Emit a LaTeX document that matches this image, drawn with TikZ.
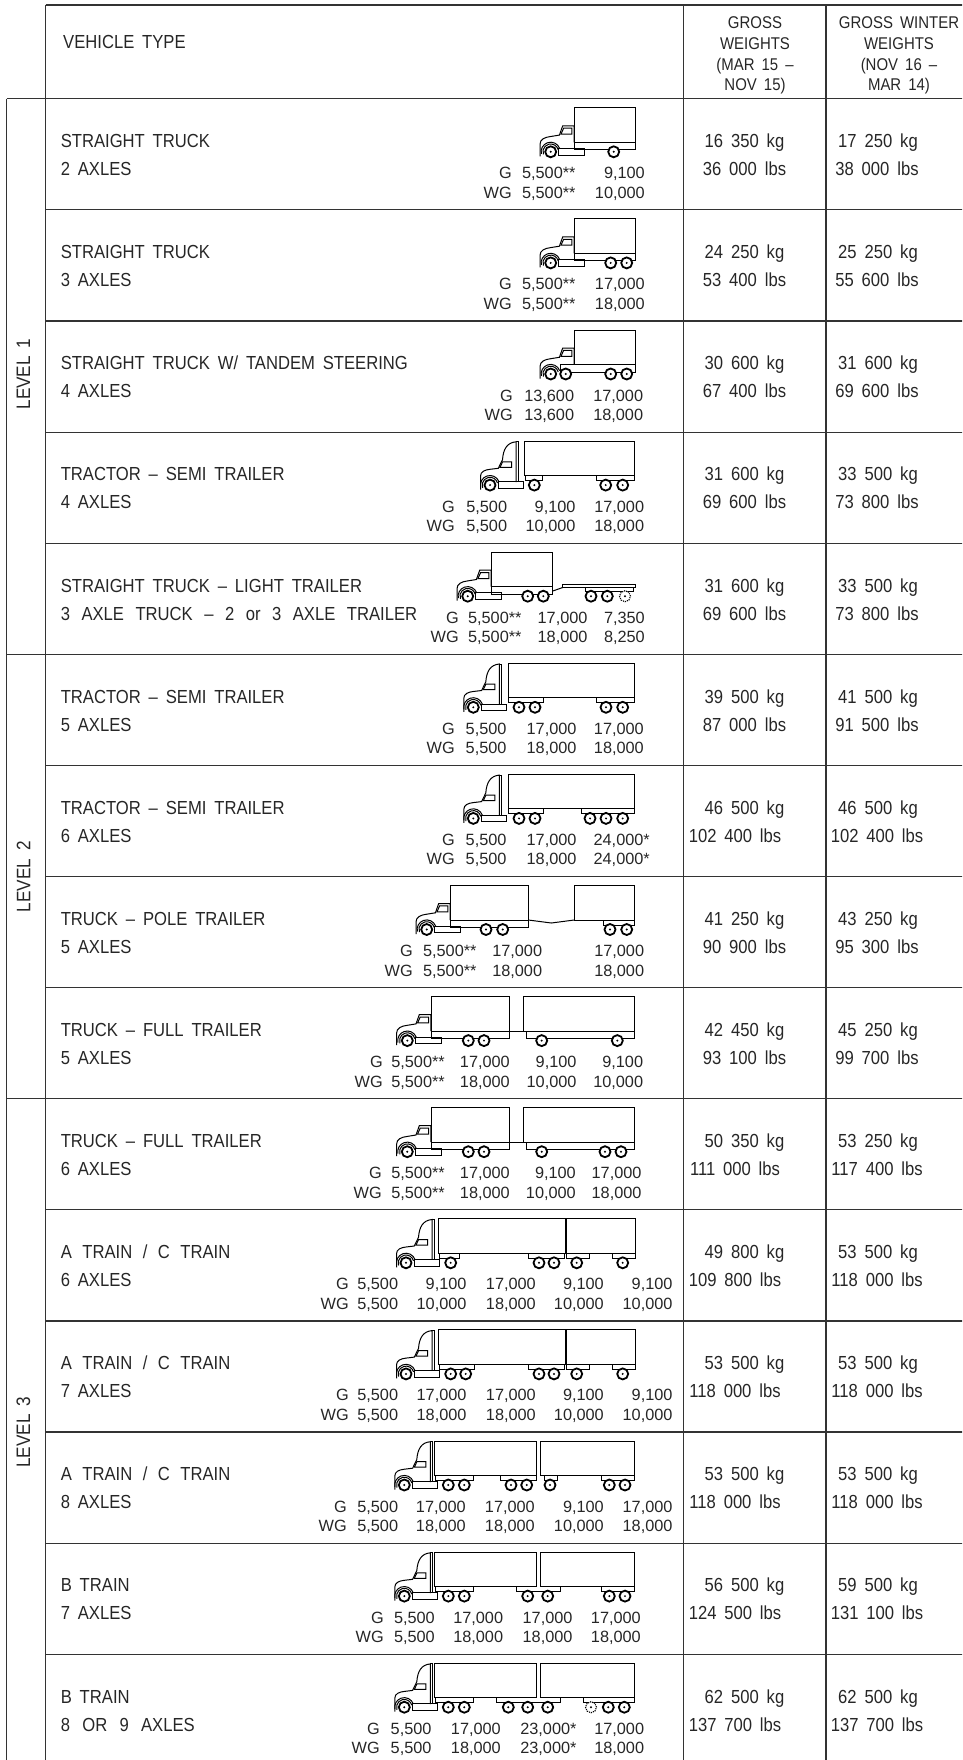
\documentclass[tikz,border=0pt]{standalone}
\usepackage{fontspec}
\setmainfont{Liberation Sans}[FakeStretch=0.88, WordSpace=1.7]
\newfontfamily\axfont{Liberation Sans}[FakeStretch=1.0, WordSpace=1.4]
\usetikzlibrary{calc}
\newcommand\Whl[1]{\draw[whl] (#1,53) circle[radius=5.5pt]; \fill (#1,53) circle[radius=1.1pt];}
\newcommand\DWhl[1]{\draw[line width=1.1pt, densely dotted, fill=white] (#1,53) circle[radius=5.5pt]; \fill (#1,53) circle[radius=1.1pt];}
\newcommand\Fend{%
 \draw[tk] (-15:7.8) arc[start angle=-15, end angle=-200, radius=7.8];
 \draw[tk] (-20:9.6) arc[start angle=-20, end angle=-192, radius=9.6];}
\newcommand\Conv[2]{%
\begin{scope}[shift={(#1,53)}]
 \draw[tk] (-10.7,4.5) -- (-10.7,-7.5) .. controls (-10.7,-12.5) and (-6,-14.6) .. (0,-15.3) -- (8.7,-16.7) -- (12,-26) -- (23.5,-26) -- (23.5,-9.5);
 \draw[tk] (10.3,-17.7) -- (12.9,-23.6) -- (21.2,-23.6) -- (21.2,-17.7) -- cycle;
 \Fend
 \ifnum#2=1 \draw[tk] (7.7,-3.3) rectangle (34,3.3);\fi
\end{scope}}
\newcommand\Tract[1]{%
\begin{scope}[shift={(#1,53)}]
 \draw[tk] (-9.5,4.5) -- (-9.5,-9) .. controls (-9.5,-13.5) and (-5,-15.3) .. (0,-15.8) -- (8.3,-16.8) -- (12.5,-25.5) .. controls (13.3,-36) and (17,-42.5) .. (26,-43.3) -- (26,-3);
 \draw[tk] (26,-43.3) -- (28.5,-43.3) -- (28.5,-3);
 \draw[tk] (10,-17.8) -- (12.6,-23.3) -- (21.5,-23.3) -- (21.5,-17.8) -- cycle;
 \Fend
 \draw[tk] (8.3,-3.3) rectangle (33,3.3);
\end{scope}}
\newcommand\Bx[2]{\draw[tk] (#1,9) rectangle (#2,43.5);}
\newcommand\Bog[2]{\draw[tk] (#1,43.5) -- (#1,48.5) -- (#2,48.5) -- (#2,43.5);}
\newcommand\Strip[2]{\draw[tk] (#1,43.5) rectangle (#2,51);}
\newcommand\AX[4]{\node[ax] (#1a) at (#2,80) {#3}; \node[ax] (#1b) at (#2,99.5) {#4};}
\newcommand\NW[8]{%
 \node[nm] (#1n1) at (60.6,48.8) {#2};
 \node[nm] (#1n2) at (60.6,76.8) {#3};
 \node[wt] (#1g1) at (744.5,48.8) {#4};
 \node[wt] (#1g2) at (#8,76.8) {#5};
 \node[wt] (#1w1) at (878,48.8) {#6};
 \node[wt] (#1w2) at (877,76.8) {#7};}
\begin{document}
\begin{tikzpicture}[x=1pt,y=-1pt,
  grid/.style={line width=1.2pt, draw=black!80},
  tk/.style={line width=1pt, draw=black},
  whl/.style={line width=1.8pt, draw=black, fill=white},
  nm/.style={font=\fontsize{18.9}{20}\selectfont, anchor=base west, inner sep=0pt, text=black!85},
  wt/.style={font=\fontsize{18.9}{20}\selectfont, anchor=base, inner sep=0pt, text=black!85},
  ax/.style={font=\axfont\fontsize{16.3}{17}\selectfont, anchor=base east, inner sep=0pt, text=black!85},
  hd/.style={font=\fontsize{17}{18}\selectfont, anchor=base, inner sep=0pt, text=black!85},
  lv/.style={font=\fontsize{19.5}{20}\selectfont, rotate=90, inner sep=0pt, text=black!85},
]
\useasboundingbox (0,0) rectangle (962,1760);
\begin{scope}
\clip (0,0) rectangle (962,1760);
% table grid
\draw[grid] (45.5,5) -- (1000,5);
\draw[grid] (6.5,98.8) -- (1000,98.8);
\draw[grid] (6.5,654.3) -- (1000,654.3);
\draw[grid] (6.5,1098.7) -- (1000,1098.7);
\foreach \k in {1,2,3,4,6,7,8,10,11,12,13,14,15}{
  \draw[grid] (45.5,98.8+111.1*\k) -- (1000,98.8+111.1*\k);}
\draw[grid] (6.5,98.8) -- (6.5,1780);
\draw[grid] (45.5,5) -- (45.5,1780);
\draw[grid] (683.6,5) -- (683.6,1780);
\draw[grid] (826,5) -- (826,1780);
\draw[grid] (972,5) -- (972,1780);
% header
\node[nm] (hv) at (63,48.5) {VEHICLE TYPE};
\node[hd] (hg1) at (755,29) {GROSS};
\node[hd] (hg2) at (755,50) {WEIGHTS};
\node[hd] (hg3) at (755,70.5) {(MAR 15 --};
\node[hd] (hg4) at (755,91) {NOV 15)};
\node[hd] (hw1) at (899,29) {GROSS WINTER};
\node[hd] (hw2) at (899,50) {WEIGHTS};
\node[hd] (hw3) at (899,70.5) {(NOV 16 --};
\node[hd] (hw4) at (899,91) {MAR 14)};
% level labels
\node[lv] (lv1) at (23.5,374) {LEVEL 1};
\node[lv] (lv2) at (23.5,876.5) {LEVEL 2};
\node[lv] (lv3) at (23.5,1432) {LEVEL 3};

% Row 1
\begin{scope}[shift={(0,98.8)}]
\NW{a}{STRAIGHT TRUCK}{2 AXLES}{16 350 kg}{36 000 lbs}{17 250 kg}{38 000 lbs}{744.5}
\Conv{550.7}{1}\Bx{574.5}{635}\Strip{574.5}{635}
\Whl{550.7}\Whl{613.7}
\AX{a1}{512}{G}{WG}\AX{a2}{575.7}{5,500**}{5,500**}\AX{a3}{645}{9,100}{10,000}
\end{scope}
% Row 2
\begin{scope}[shift={(0,209.9)}]
\NW{b}{STRAIGHT TRUCK}{3 AXLES}{24 250 kg}{53 400 lbs}{25 250 kg}{55 600 lbs}{744.5}
\Conv{550.7}{1}\Bx{574.5}{635}\Strip{574.5}{635}
\Whl{550.7}\Whl{610.7}\Whl{626.7}
\AX{b1}{512}{G}{WG}\AX{b2}{575.7}{5,500**}{5,500**}\AX{b3}{645}{17,000}{18,000}
\end{scope}
% Row 3
\begin{scope}[shift={(0,321.0)}]
\NW{c}{STRAIGHT TRUCK W/ TANDEM STEERING}{4 AXLES}{30 600 kg}{67 400 lbs}{31 600 kg}{69 600 lbs}{744.5}
\Conv{550.7}{0}\Bx{574.3}{635}\Strip{560}{635}
\Whl{550.7}\Whl{565.7}\Whl{610.7}\Whl{626.7}
\AX{c1}{513}{G}{WG}\AX{c2}{574.3}{13,600}{13,600}\AX{c3}{643.3}{17,000}{18,000}
\end{scope}
% Row 4
\begin{scope}[shift={(0,432.1)}]
\NW{d}{TRACTOR -- SEMI TRAILER}{4 AXLES}{31 600 kg}{69 600 lbs}{33 500 kg}{73 800 lbs}{744.5}
\Tract{490}\Bx{524.3}{634.3}\Bog{525}{542}\Bog{596.7}{634.3}
\Whl{490}\Whl{534.3}\Whl{605.7}\Whl{622.7}
\AX{d1}{455}{G}{WG}\AX{d2}{507.3}{5,500}{5,500}\AX{d3}{575.7}{9,100}{10,000}\AX{d4}{644.3}{17,000}{18,000}
\end{scope}
% Row 5
\begin{scope}[shift={(0,543.2)}]
\NW{e}{STRAIGHT TRUCK -- LIGHT TRAILER}{\spaceskip=11.5pt plus 1pt 3 AXLE TRUCK -- 2 or 3 AXLE TRAILER}{31 600 kg}{69 600 lbs}{33 500 kg}{73 800 lbs}{744.5}
\Conv{467.7}{1}\Bx{491.7}{552.3}\Strip{491.7}{552.3}
\draw[tk] (552.3,48) -- (562.7,44.3);
\draw[tk] (562.7,41.3) rectangle (635,44.3);
\draw[tk] (585,44.3) -- (585,48.5) -- (633,48.5) -- (633,44.3);
\Whl{467.7}\Whl{527.7}\Whl{543.3}\Whl{591}\Whl{607.3}\DWhl{625}
\AX{e1}{459}{G}{WG}\AX{e2}{521.7}{5,500**}{5,500**}\AX{e3}{587.7}{17,000}{18,000}\AX{e4}{645}{7,350}{8,250}
\end{scope}
% Row 6
\begin{scope}[shift={(0,654.3)}]
\NW{f}{TRACTOR -- SEMI TRAILER}{5 AXLES}{39 500 kg}{87 000 lbs}{41 500 kg}{91 500 lbs}{744.5}
\Tract{473.3}\Bx{508.3}{634.3}\Bog{508.3}{543}\Bog{596.7}{634.3}
\Whl{473.3}\Whl{519}\Whl{535}\Whl{606}\Whl{622.7}
\AX{f1}{455}{G}{WG}\AX{f2}{506.7}{5,500}{5,500}\AX{f3}{576.7}{17,000}{18,000}\AX{f4}{644}{17,000}{18,000}
\end{scope}
% Row 7
\begin{scope}[shift={(0,765.4)}]
\NW{g}{TRACTOR -- SEMI TRAILER}{6 AXLES}{46 500 kg}{102 400 lbs}{46 500 kg}{102 400 lbs}{735}
\Tract{473.3}\Bx{508.3}{634.3}\Bog{508.3}{543}\Bog{581}{634.3}
\Whl{473.3}\Whl{519}\Whl{535}\Whl{590}\Whl{606}\Whl{622.7}
\AX{g1}{455}{G}{WG}\AX{g2}{506.7}{5,500}{5,500}\AX{g3}{576.7}{17,000}{18,000}\AX{g4}{650}{24,000*}{24,000*}
\end{scope}
% Row 8
\begin{scope}[shift={(0,876.5)}]
\NW{h}{TRUCK -- POLE TRAILER}{5 AXLES}{41 250 kg}{90 900 lbs}{43 250 kg}{95 300 lbs}{744.5}
\Conv{426.7}{1}\Bx{450}{528.3}\Strip{450}{528.3}
\draw[tk] (528.3,43.5) -- (551.3,46.5) -- (574.3,43.5);
\Bx{574.3}{634.3}\Bog{603}{634.3}
\Whl{426.7}\Whl{486}\Whl{502.7}\Whl{610}\Whl{626.7}
\AX{h1}{413}{G}{WG}\AX{h2}{476.7}{5,500**}{5,500**}\AX{h3}{542.3}{17,000}{18,000}\AX{h4}{644.3}{17,000}{18,000}
\end{scope}
% Row 9
\begin{scope}[shift={(0,987.6)}]
\NW{i}{TRUCK -- FULL TRAILER}{5 AXLES}{42 450 kg}{93 100 lbs}{45 250 kg}{99 700 lbs}{744.5}
\Conv{407.3}{1}\Bx{431.7}{509.3}\Strip{431.7}{509.3}
\draw[tk] (509.3,43.5) -- (523.3,43.5);
\Bx{523.3}{634.3}\draw[tk] (526,43.5) rectangle (634.3,50.5);
\Whl{407.3}\Whl{468.3}\Whl{484}\Whl{541.7}\Whl{617.3}
\AX{i1}{383}{G}{WG}\AX{i2}{445}{5,500**}{5,500**}\AX{i3}{510}{17,000}{18,000}\AX{i4}{576.7}{9,100}{10,000}\AX{i5}{643.3}{9,100}{10,000}
\end{scope}
% Row 10
\begin{scope}[shift={(0,1098.7)}]
\NW{j}{TRUCK -- FULL TRAILER}{6 AXLES}{50 350 kg}{111 000 lbs}{53 250 kg}{117 400 lbs}{735}
\Conv{407.3}{1}\Bx{431.7}{509.3}\Strip{431.7}{509.3}
\draw[tk] (509.3,43.5) -- (523.3,43.5);
\Bx{523.3}{634.3}\draw[tk] (526,43.5) rectangle (634.3,50.5);
\Whl{407.3}\Whl{468.3}\Whl{484}\Whl{541.7}\Whl{605}\Whl{621}
\AX{j1}{382}{G}{WG}\AX{j2}{445}{5,500**}{5,500**}\AX{j3}{510}{17,000}{18,000}\AX{j4}{576}{9,100}{10,000}\AX{j5}{641.7}{17,000}{18,000}
\end{scope}
% Row 11
\begin{scope}[shift={(0,1209.8)}]
\NW{k}{\spaceskip=10.5pt plus 1pt A TRAIN / C TRAIN}{6 AXLES}{49 800 kg}{109 800 lbs}{53 500 kg}{118 000 lbs}{735}
\Tract{406}\Bx{438.3}{565}\Bx{566.7}{635}
\Bog{439}{459}\Bog{528}{564}\Bog{566.7}{589.3}\Bog{612.7}{635}
\Whl{406}\Whl{450.7}\Whl{539}\Whl{554}\Whl{576.7}\Whl{622.7}
\AX{k1}{349}{G}{WG}\AX{k2}{398.3}{5,500}{5,500}\AX{k3}{466.7}{9,100}{10,000}\AX{k4}{536}{17,000}{18,000}\AX{k5}{604}{9,100}{10,000}\AX{k6}{672.7}{9,100}{10,000}
\end{scope}
% Row 12
\begin{scope}[shift={(0,1320.9)}]
\NW{l}{\spaceskip=10.5pt plus 1pt A TRAIN / C TRAIN}{7 AXLES}{53 500 kg}{118 000 lbs}{53 500 kg}{118 000 lbs}{735}
\Tract{406}\Bx{438.3}{565}\Bx{566.7}{635}
\Bog{439}{474}\Bog{528}{564}\Bog{566.7}{589.3}\Bog{612.7}{635}
\Whl{406}\Whl{450.7}\Whl{465.7}\Whl{539}\Whl{554}\Whl{576.7}\Whl{622.7}
\AX{l1}{349}{G}{WG}\AX{l2}{398.3}{5,500}{5,500}\AX{l3}{466.7}{17,000}{18,000}\AX{l4}{536}{17,000}{18,000}\AX{l5}{604}{9,100}{10,000}\AX{l6}{672.7}{9,100}{10,000}
\end{scope}
% Row 13
\begin{scope}[shift={(0,1432.0)}]
\NW{m}{\spaceskip=10.5pt plus 1pt A TRAIN / C TRAIN}{8 AXLES}{53 500 kg}{118 000 lbs}{53 500 kg}{118 000 lbs}{735}
\Tract{404.3}\Bx{434.3}{536.7}\Bx{540}{634.3}
\Bog{435}{473}\Bog{500}{536.7}\Bog{544}{557}\Bog{601.7}{634.3}
\Whl{404.3}\Whl{448.3}\Whl{464.3}\Whl{511}\Whl{526.7}\Whl{550}\Whl{609.3}\Whl{625}
\AX{m1}{347}{G}{WG}\AX{m2}{398.3}{5,500}{5,500}\AX{m3}{466}{17,000}{18,000}\AX{m4}{535}{17,000}{18,000}\AX{m5}{604}{9,100}{10,000}\AX{m6}{672.7}{17,000}{18,000}
\end{scope}
% Row 14
\begin{scope}[shift={(0,1543.1)}]
\NW{n}{B TRAIN}{7 AXLES}{56 500 kg}{124 500 lbs}{59 500 kg}{131 100 lbs}{735}
\Tract{404.3}\Bx{434.3}{536.7}\Bx{540}{634.3}
\Bog{435}{473}\Bog{516}{560}\Bog{601.7}{634.3}
\Whl{404.3}\Whl{448.3}\Whl{464.3}\Whl{527.7}\Whl{547.7}\Whl{609.3}\Whl{625}
\AX{n1}{384}{G}{WG}\AX{n2}{435}{5,500}{5,500}\AX{n3}{503.3}{17,000}{18,000}\AX{n4}{572.7}{17,000}{18,000}\AX{n5}{641}{17,000}{18,000}
\end{scope}
% Row 15
\begin{scope}[shift={(0,1654.2)}]
\NW{o}{B TRAIN}{\spaceskip=12.3pt plus 1pt 8 OR 9 AXLES}{62 500 kg}{137 700 lbs}{62 500 kg}{137 700 lbs}{735}
\Tract{404.3}\Bx{434.3}{536.7}\Bx{540}{634.3}
\Bog{435}{473}\Bog{496.7}{560}\Bog{583}{634.3}
\Whl{404.3}\Whl{448.3}\Whl{464.3}\Whl{508.3}\Whl{527.7}\Whl{547.7}\DWhl{591}\Whl{608.3}\Whl{624.3}
\AX{o1}{380}{G}{WG}\AX{o2}{431.7}{5,500}{5,500}\AX{o3}{501}{17,000}{18,000}\AX{o4}{576.7}{23,000*}{23,000*}\AX{o5}{644.3}{17,000}{18,000}
\end{scope}
\end{scope}
\end{tikzpicture}
\end{document}
